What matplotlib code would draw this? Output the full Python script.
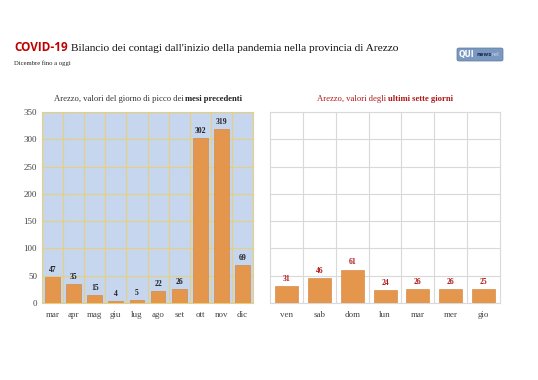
import matplotlib
matplotlib.use('Agg')
import matplotlib.pyplot as plt
from matplotlib.patches import FancyBboxPatch

# data
mesi = ['mar', 'apr', 'mag', 'giu', 'lug', 'ago', 'set', 'ott', 'nov', 'dic']
picchi = [47, 35, 15, 4, 5, 22, 26, 302, 319, 69]
giorni = ['ven', 'sab', 'dom', 'lun', 'mar', 'mer', 'gio']
ultimi = [31, 46, 61, 24, 26, 26, 25]
yticks = [0, 50, 100, 150, 200, 250, 300, 350]

SERIF = 'Liberation Serif'
BAR = '#e3964c'
RED = '#b01818'

fig = plt.figure(figsize=(5.38, 3.8), dpi=100)
fig.patch.set_facecolor('white')


def rich_text(fig, x, y, parts, size, ha='left', gap=0.003):
    # parts: list of (text, weight, color); draws them side by side
    r = fig.canvas.get_renderer()
    objs = []
    for txt, w, c in parts:
        t = fig.text(0, y, txt, fontsize=size, fontweight=w, color=c,
                     family=SERIF, va='baseline')
        objs.append(t)
    widths = [o.get_window_extent(r).width / fig.bbox.width for o in objs]
    total = sum(widths) + gap * (len(objs) - 1)
    cx = x - total / 2 if ha == 'center' else x
    for o, w in zip(objs, widths):
        o.set_x(cx)
        cx += w + gap


# titles
r = fig.canvas.get_renderer()
t1 = fig.text(14 / 538, 1 - 51 / 380, 'COVID-19', fontsize=8.5, fontweight='bold',
              color='#c00000', family='Open Sans', va='baseline')
w1 = t1.get_window_extent(r).width / fig.bbox.width
fig.text(14 / 538 + w1 + 0.006, 1 - 51 / 380,
         "Bilancio dei contagi dall'inizio della pandemia nella provincia di Arezzo",
         fontsize=8.2, family=SERIF, color='#111111', va='baseline')
fig.text(14 / 538, 1 - 65 / 380, 'Dicembre fino a oggi', fontsize=4.8,
         family=SERIF, color='#222222', va='baseline')

# logo
lx, ly, lw, lh = 457 / 538, 1 - 61 / 380, 46 / 538, 13 / 380
fig.patches.append(FancyBboxPatch((lx, ly), lw, lh, boxstyle='round,pad=0,rounding_size=0.004',
                                  transform=fig.transFigure, facecolor='#7b98c0',
                                  edgecolor='#5a7aa3', linewidth=0.5))
fig.text(lx + 0.003, ly + lh / 2, 'QUI', fontsize=5.5, fontweight='bold', color='white',
         family='DejaVu Sans', va='center')
fig.text(lx + 0.036, ly + lh / 2, 'news', fontsize=3.8, fontweight='bold', color='#1b2f55',
         family='DejaVu Sans', va='center')
fig.text(lx + 0.064, ly + lh / 2, 'net', fontsize=3.4, color='#c9d6ea',
         family='DejaVu Sans', va='center')

rich_text(fig, 148 / 538, 1 - 101 / 380,
          [('Arezzo, valori del giorno di picco dei', 'normal', '#333333'),
           ('mesi precedenti', 'bold', '#222222')], 6.2, ha='center')
rich_text(fig, 385 / 538, 1 - 101 / 380,
          [('Arezzo, valori degli', 'normal', RED),
           ('ultimi sette giorni', 'bold', RED)], 6.2, ha='center')

# left panel
ax1 = fig.add_axes([42 / 538, 77 / 380, 211 / 538, 191 / 380])
ax1.set_facecolor('#c5d6ee')
x1 = range(len(mesi))
ax1.bar(x1, picchi, width=0.7, color=BAR, edgecolor='#d08038', linewidth=0.4, zorder=3)
for xi, v in zip(x1, picchi):
    ax1.text(xi, v + 6, str(v), ha='center', va='bottom', fontsize=5.5,
             fontweight='bold', color='#222222', family=SERIF, zorder=4)
ax1.set_xlim(-0.5, len(mesi) - 0.5)
ax1.set_ylim(0, 350)
ax1.set_yticks(yticks)
ax1.set_xticks(list(x1))
ax1.set_xticklabels(mesi)
ax1.set_xticks([i + 0.5 for i in range(len(mesi) - 1)], minor=True)
ax1.grid(True, axis='y', which='major', color='#e8cf7a', linewidth=0.8, zorder=0)
ax1.grid(True, axis='x', which='minor', color='#e8cf7a', linewidth=0.8, zorder=0)
ax1.tick_params(axis='both', which='both', length=0, labelsize=6.5, colors='#444444')
ax1.tick_params(axis='x', pad=6)
for s in ax1.spines.values():
    s.set_color('#e8cf7a')
    s.set_linewidth(0.8)
for lab in ax1.get_xticklabels() + ax1.get_yticklabels():
    lab.set_family(SERIF)

# right panel
ax2 = fig.add_axes([270 / 538, 77 / 380, 230 / 538, 191 / 380])
ax2.set_facecolor('white')
x2 = range(len(giorni))
ax2.bar(x2, ultimi, width=0.7, color=BAR, edgecolor='#d08038', linewidth=0.4, zorder=3)
for xi, v in zip(x2, ultimi):
    ax2.text(xi, v + 6, str(v), ha='center', va='bottom', fontsize=5.5,
             fontweight='bold', color=RED, family=SERIF, zorder=4)
ax2.set_xlim(-0.5, len(giorni) - 0.5)
ax2.set_ylim(0, 350)
ax2.set_yticks(yticks)
ax2.set_yticklabels([])
ax2.set_xticks(list(x2))
ax2.set_xticklabels(giorni)
ax2.set_xticks([i + 0.5 for i in range(len(giorni) - 1)], minor=True)
ax2.grid(True, axis='y', which='major', color='#d9d9d9', linewidth=0.8, zorder=0)
ax2.grid(True, axis='x', which='minor', color='#d9d9d9', linewidth=0.8, zorder=0)
ax2.tick_params(axis='both', which='both', length=0, labelsize=6.5, colors='#444444')
ax2.tick_params(axis='x', pad=6)
for s in ax2.spines.values():
    s.set_color('#d9d9d9')
    s.set_linewidth(0.8)
for lab in ax2.get_xticklabels():
    lab.set_family(SERIF)

fig.savefig('out.png', dpi=100)
